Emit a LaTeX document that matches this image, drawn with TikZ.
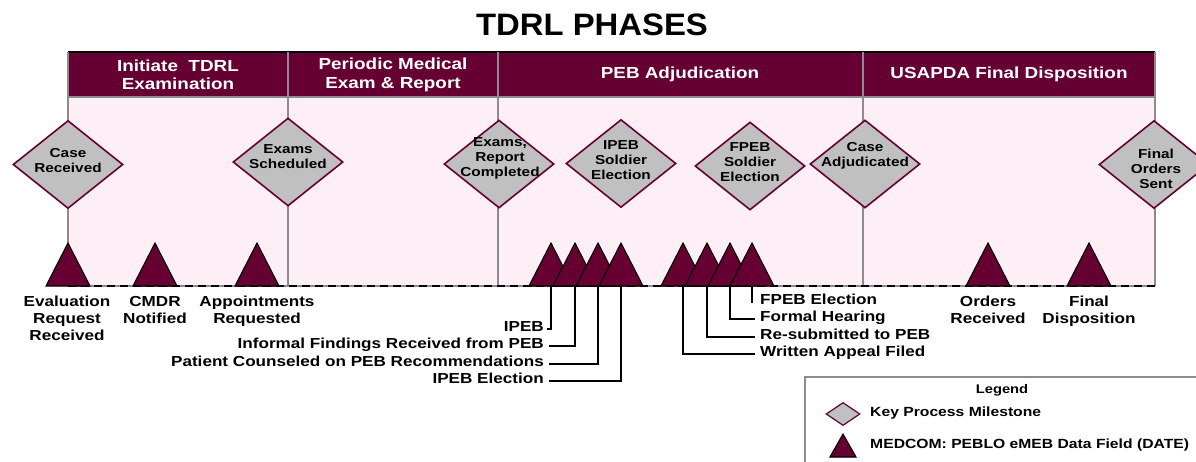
\documentclass[tikz,border=0pt]{standalone}
\usepackage{fontspec}
\setmainfont{Liberation Sans}[FakeStretch=1.18]
\newfontfamily\titlefont{Liberation Sans}[FakeStretch=1.06]
\usetikzlibrary{shapes.geometric}
\definecolor{maroon}{HTML}{660033}
\definecolor{pinkbg}{HTML}{FDEFF5}
\definecolor{diagray}{HTML}{C0C0C0}
\definecolor{divgray}{HTML}{8C8C8C}
\tikzset{
  phasebg/.style={fill=pinkbg, draw=none},
  band/.style={fill=maroon, draw=none},
  divider/.style={draw=divgray, line width=1.3pt},
  timeline/.style={draw=black, line width=2pt, dash pattern=on 8pt off 5pt},
  milestone/.style={shape=diamond, draw=maroon, line width=1.6pt, fill=diagray,
    minimum width=110pt, minimum height=88pt, inner sep=0pt},
  mtext/.style={font=\bfseries\fontsize{13}{15}\selectfont, align=center, inner sep=0pt},
  phasetext/.style={font=\bfseries\fontsize{16}{18.5}\selectfont, text=white, align=center, inner sep=0pt},
  datafield/.style={fill=maroon, draw=black, line width=1.1pt, line join=miter},
  evlabel/.style={font=\bfseries\fontsize{14.5}{17}\selectfont, align=center, inner sep=0pt, anchor=north},
  leadtext/.style={font=\bfseries\fontsize{14.5}{17}\selectfont, inner sep=0pt},
  lead/.style={draw=black, line width=1.3pt},
  legbox/.style={draw=divgray, line width=1.5pt, fill=white},
  legtext/.style={font=\bfseries\fontsize{13.3}{15}\selectfont, inner sep=0pt, anchor=mid west}
}
% data field marker: base centred on the given coordinate
\newcommand{\datamark}[1]{%
  \path[datafield] (#1) ++(-22,0) -- ++(22,-43) -- ++(22,43) -- cycle;}
\begin{document}
\begin{tikzpicture}[x=1pt, y=-1pt]
\useasboundingbox (0,0) rectangle (1196,461);

% title
\node[font=\titlefont\bfseries\fontsize{31}{31}\selectfont] (title) at (592,25) {TDRL PHASES};

% phase panels
\path[phasebg] (68,97) rectangle (1155,286);
\path[band] (68,52) rectangle (1155,97);
\draw[black, line width=2pt] (68,52) -- (1155,52);
\draw[divider] (68,97) -- (1155,97);
\foreach \xd in {68,288,498,863,1155}
  {\draw[divider] (\xd,52) -- (\xd,286);}
\draw[divider] (68,286) -- (1155,286);
\draw[timeline] (68,286) -- (1155,286);

% phase titles
\node[phasetext] (ph1) at (178,75) {Initiate\ \ TDRL\\Examination};
\node[phasetext] (ph2) at (393,75) {Periodic Medical\\Exam \& Report};
\node[phasetext] (ph3) at (680,74) {PEB Adjudication};
\node[phasetext] (ph4) at (1009,74) {USAPDA Final Disposition};

% key process milestones
\node[milestone] (m1) at (68,164.5) {};
\node[milestone] (m2) at (288,162) {};
\node[milestone] (m3) at (499,164) {};
\node[milestone] (m4) at (621,163.5) {};
\node[milestone] (m5) at (750,166) {};
\node[milestone] (m6) at (865,164) {};
\node[milestone] (m7) at (1154,164.5) {};
\node[mtext] (m1t) at (68,161) {Case\\Received};
\node[mtext] (m2t) at (288,157) {Exams\\Scheduled};
\node[mtext] (m3t) at (500,158.5) {Exams,\\Report\\Completed};
\node[mtext] (m4t) at (621,160) {IPEB\\Soldier\\Election};
\node[mtext] (m5t) at (750,162.5) {FPEB\\Soldier\\Election};
\node[mtext] (m6t) at (865,156) {Case\\Adjudicated};
\node[mtext] (m7t) at (1156,168.5) {Final\\Orders\\Sent};

% data field markers on the timeline
\coordinate (d1) at (68,286);
\coordinate (d2) at (155,286);
\coordinate (d3) at (257,286);
\coordinate (iA) at (551,286);
\coordinate (iB) at (575,286);
\coordinate (iC) at (598,286);
\coordinate (iD) at (621,286);
\coordinate (fA) at (683,286);
\coordinate (fB) at (707,286);
\coordinate (fC) at (730,286);
\coordinate (fD) at (752,286);
\coordinate (d4) at (988,286);
\coordinate (d5) at (1089,286);
\foreach \c in {d1,d2,d3,iA,iB,iC,iD,fA,fB,fC,fD,d4,d5}
  {\datamark{\c}}

% event labels under single markers
\node[evlabel] (e1) at (67,296) {Evaluation\\Request\\Received};
\node[evlabel] (e2) at (155,296) {CMDR\\Notified};
\node[evlabel] (e3) at (257,296) {Appointments\\Requested};
\node[evlabel] (e4) at (988,296) {Orders\\Received};
\node[evlabel] (e5) at (1089,296) {Final\\Disposition};

% IPEB group leaders
\node[leadtext, anchor=mid east] (lA) at (544,329) {IPEB};
\node[leadtext, anchor=mid east] (lB) at (544,346) {Informal Findings Received from PEB};
\node[leadtext, anchor=mid east] (lC) at (544,364) {Patient Counseled on PEB Recommendations};
\node[leadtext, anchor=mid east] (lD) at (544,381) {IPEB Election};
\draw[lead] (iA) |- ([xshift=3pt]lA.mid east);
\draw[lead] (iB) |- ([xshift=5pt]lB.mid east);
\draw[lead] (iC) |- ([xshift=5pt]lC.mid east);
\draw[lead] (iD) |- ([xshift=5pt]lD.mid east);

% FPEB group leaders
\node[leadtext, anchor=mid west] (gD) at (760,302) {FPEB Election};
\node[leadtext, anchor=mid west] (gC) at (760,319) {Formal Hearing};
\node[leadtext, anchor=mid west] (gB) at (760,337) {Re-submitted to PEB};
\node[leadtext, anchor=mid west] (gA) at (760,354) {Written Appeal Filed};
\coordinate (gDtick) at (752,303);
\draw[lead] (fD) -- (gDtick);
\draw[lead] (fC) |- ([xshift=-5pt]gC.mid west);
\draw[lead] (fB) |- ([xshift=-5pt]gB.mid west);
\draw[lead] (fA) |- ([xshift=-5pt]gA.mid west);

% legend
\draw[legbox] (805,377) rectangle (1210,475);
\node[font=\bfseries\fontsize{12.5}{14}\selectfont, inner sep=0pt] (legtitle) at (1002,390) {Legend};
\node[milestone, minimum width=34pt, minimum height=23pt, line width=1.2pt] (legdia) at (843,414) {};
\node[legtext] (legdiat) at (870,414) {Key Process Milestone};
\coordinate (legtri) at (843,457);
\path[datafield] (legtri) ++(-13,0) -- ++(13,-23) -- ++(13,23) -- cycle;
\node[legtext] (legtrit) at (870,446) {MEDCOM: PEBLO eMEB Data Field (DATE)};
\end{tikzpicture}
\end{document}
